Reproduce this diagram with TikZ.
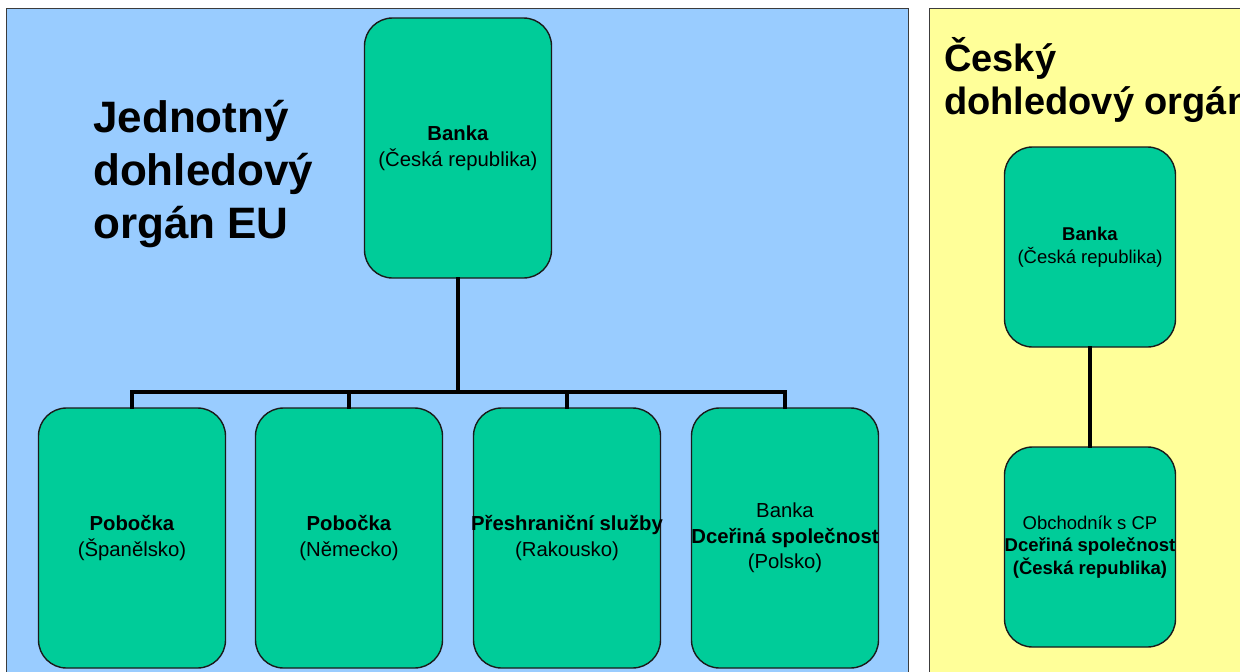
\documentclass[tikz,border=0pt]{standalone}
\usepackage{fontspec}
\setmainfont{Liberation Sans}
\definecolor{panelblue}{HTML}{99CCFF}
\definecolor{panelyellow}{HTML}{FFFF99}
\definecolor{boxgreen}{HTML}{00CC99}
\definecolor{edge}{HTML}{1A1A1A}
\newcommand\fitline[2]{\makebox[#1][c]{#2}}
\tikzset{
  panel/.style={draw=edge!85, line width=1pt},
  orgbox/.style={draw=edge, line width=1.4pt, fill=boxgreen, rounded corners=28pt,
    minimum width=#1, align=center, inner sep=0pt},
  bigbox/.style={orgbox=187pt, minimum height=260pt, font=\fontsize{20.3}{25.5}\selectfont},
  smallbox/.style={orgbox=171pt, minimum height=200pt, font=\fontsize{18.5}{22.5}\selectfont},
  conn/.style={draw=black, line width=3.2pt, line join=miter, line cap=rect},
  title/.style={anchor=base west, align=left, inner sep=0pt}
}
\begin{document}
\begin{tikzpicture}[x=1pt, y=-1pt]
\useasboundingbox (0,0) rectangle (1240,672);
\clip (0,0) rectangle (1240,672);
\fill[white] (0,0) rectangle (1240,672);
% panels
\draw[panel, fill=panelblue] (6,8) rectangle (908,690);
\draw[panel, fill=panelyellow] (929,8) rectangle (1260,690);
% titles (base anchor = baseline of last line)
\node[title, font=\fontsize{44}{53}\selectfont\bfseries] (t1) at (93,238)
  {Jednotný\\dohledový\\orgán EU};
\node[title, font=\fontsize{38}{43}\selectfont\bfseries] (t2) at (944,114)
  {Český\\dohledový orgán};
% EU boxes
\node[bigbox] (top) at (458,148) {\textbf{Banka}\\(Česká republika)};
\node[bigbox] (b1) at (132,538) {\textbf{Pobočka}\\(Španělsko)};
\node[bigbox] (b2) at (349,538) {\textbf{Pobočka}\\(Německo)};
\node[bigbox] (b3) at (567,538) {\fitline{160pt}{\textbf{Přeshraniční služby}}\\(Rakousko)};
\node[bigbox] (b4) at (785,538) {Banka\\\fitline{160pt}{\textbf{Dceřiná společnost}}\\(Polsko)};
\coordinate (j) at (458,392);
\draw[conn] (top.south) -- (j);
\draw[conn] (b1.north) |- (j) -| (b4.north);
\draw[conn] (b2.north) -- (b2.north |- j);
\draw[conn] (b3.north) -- (b3.north |- j);
% Czech boxes
\node[smallbox] (cz1) at (1090,247) {\textbf{Banka}\\(Česká republika)};
\node[smallbox] (cz2) at (1090,547) {Obchodník s CP\\\fitline{150pt}{\textbf{Dceřiná společnost}}\\\textbf{(Česká republika)}};
\draw[conn] (cz1.south) -- (cz2.north);
\end{tikzpicture}
\end{document}
